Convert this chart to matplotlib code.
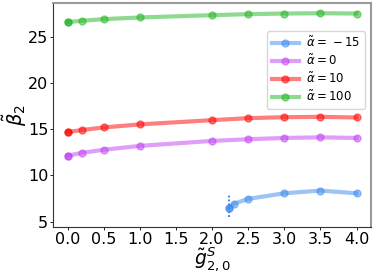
import matplotlib
matplotlib.use("Agg")
import matplotlib.pyplot as plt
import numpy as np

# data
g_full = [0.0, 0.2, 0.5, 1.0, 2.0, 2.5, 3.0, 3.5, 4.0]
beta_100 = [26.64, 26.79, 26.96, 27.14, 27.39, 27.50, 27.57, 27.60, 27.57]
beta_10 = [14.71, 14.93, 15.21, 15.54, 16.00, 16.22, 16.32, 16.36, 16.29]
beta_0 = [12.14, 12.46, 12.79, 13.21, 13.75, 13.93, 14.07, 14.14, 14.07]

g_neg = [2.24, 2.30, 2.5, 3.0, 3.5, 4.0]
beta_neg15 = [6.50, 6.93, 7.46, 8.07, 8.36, 8.07]

# vertical dotted marker at the onset of the -15 branch
onset_x = 2.24
onset_lo, onset_hi = 5.5, 7.9

series = [
    (g_neg, beta_neg15, "#3a8aea", r"$\tilde{\alpha}=\,-15$"),
    (g_full, beta_0, "#c040f5", r"$\tilde{\alpha}=0$"),
    (g_full, beta_10, "red", r"$\tilde{\alpha}=10$"),
    (g_full, beta_100, "#22b422", r"$\tilde{\alpha}=100$"),
]

fig, ax = plt.subplots(figsize=(3.74, 2.77), dpi=100)

for xs, ys, c, lab in series:
    ax.plot(xs, ys, "-o", color=c, alpha=0.5, lw=3, ms=5, label=lab)
    # first point drawn again, so it looks darker
    ax.plot(xs[:1], ys[:1], "o", color=c, alpha=0.5, ms=5)

ax.vlines(onset_x, onset_lo, onset_hi, colors="#3a8aea", linestyles=(0, (1, 1)), lw=1.4)

ax.set_xticks(np.arange(0, 4.01, 0.5))
ax.set_yticks([5, 10, 15, 20, 25])
ax.tick_params(labelsize=11.5, length=2, width=0.6, pad=1.5)
ax.set_xlabel(r"$\tilde{g}^{S}_{2,0}$", fontsize=13.5, labelpad=-1)
ax.set_ylabel(r"$\tilde{\beta}_2$", fontsize=14, labelpad=-1)

for side in ["top", "right"]:
    ax.spines[side].set_color("#999999")
    ax.spines[side].set_linewidth(1.5)
for side in ["left", "bottom"]:
    ax.spines[side].set_color("#333333")
    ax.spines[side].set_linewidth(0.8)

ax.legend(loc="upper right", bbox_to_anchor=(1.0, 0.9), fontsize=8.5,
          handlelength=2.3, borderpad=0.4, labelspacing=0.3, handletextpad=0.6)

fig.subplots_adjust(left=0.142, right=0.992, top=0.989, bottom=0.18)
fig.savefig("out.png", dpi=100)
